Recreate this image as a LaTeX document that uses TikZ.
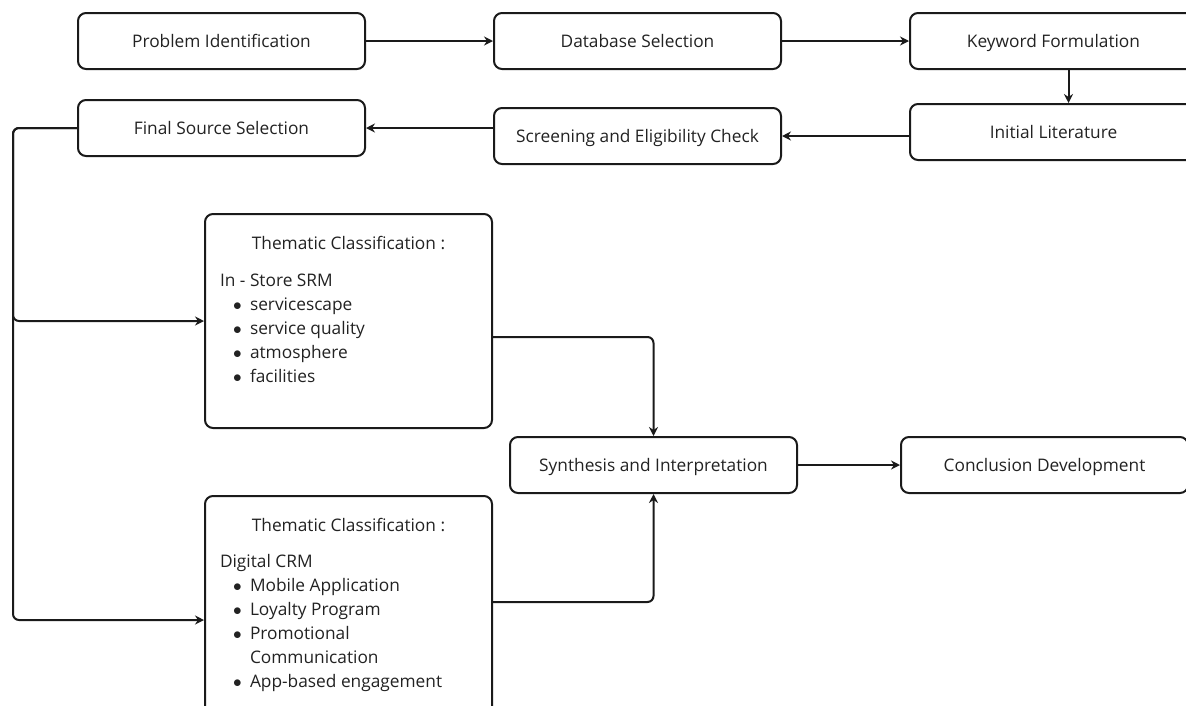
\documentclass[tikz,border=0pt]{standalone}
\usepackage{fontspec}
\setmainfont{Open Sans}
\usetikzlibrary{positioning,arrows.meta}
\definecolor{FlowInk}{HTML}{1A1A1A}
\definecolor{FlowText}{HTML}{222222}
\tikzset{
  flowBase/.style={
    font=\fontsize{17.3pt}{24pt}\selectfont,
    text=FlowText,
    draw=FlowInk,
    line width=2pt,
    rounded corners=8pt,
    align=center
  },
  flowStep/.style={
    flowBase,
    minimum width=287pt,
    minimum height=56pt,
    text height=13pt,
    text depth=0pt,
    inner sep=0pt
  },
  flowTheme/.style={
    flowBase,
    minimum width=287pt,
    inner sep=0pt
  },
  flowArrow/.style={
    line width=2pt,
    color=FlowInk,
    rounded corners=6pt,
    -{Stealth[length=9pt,width=9pt,inset=3pt]}
  }
}
\newcommand{\themeItem}[1]{\par\hspace*{13pt}\makebox[17pt][l]{$\bullet$}#1}
\newcommand{\themeCont}[1]{\par\hspace*{30pt}#1}

\begin{document}
\begin{tikzpicture}[x=1pt, y=-1pt]
  \useasboundingbox (0,0) rectangle (1186,705);
  \clip (0,0) rectangle (1186,705);

  % top row
  \node (prob) [flowStep] at (221.5,41) {Problem Identification};
  \node (dbsel) [flowStep, right=127pt of prob] {Database Selection};
  \node (kwform) [flowStep, right=127pt of dbsel] {Keyword Formulation};

  % second row
  \node (initlit) [flowStep, below=33pt of kwform] {Initial Literature};
  \node (screen) [flowStep, below=37pt of dbsel] {Screening and Eligibility Check};
  \node (finsel) [flowStep, below=29pt of prob] {Final Source Selection};

  % thematic classification
  \node (instore) [flowTheme, minimum height=214pt] at (348.5,321) {%
    \begin{minipage}[c][214pt][t]{257pt}
      \vspace*{22pt}
      \centering Thematic Classification :\par
      \vspace{13pt}
      \raggedright In - Store SRM
      \themeItem{servicescape}
      \themeItem{service quality}
      \themeItem{atmosphere}
      \themeItem{facilities}
    \end{minipage}};
  \node (digital) [flowTheme, minimum height=248pt] at (348.5,620) {%
    \begin{minipage}[c][248pt][t]{257pt}
      \vspace*{22pt}
      \centering Thematic Classification :\par
      \vspace{12pt}
      \raggedright Digital CRM
      \themeItem{Mobile Application}
      \themeItem{Loyalty Program}
      \themeItem{Promotional}
      \themeCont{Communication}
      \themeItem{App-based engagement}
    \end{minipage}};

  % synthesis and conclusion
  \node (synth) [flowStep] at (653.5,465) {Synthesis and Interpretation};
  \node (concl) [flowStep, right=102pt of synth] {Conclusion Development};

  \draw [flowArrow] (prob) -- (dbsel);
  \draw [flowArrow] (dbsel) -- (kwform);
  \draw [flowArrow] ([xshift=15pt]kwform.south) -- ([xshift=15pt]kwform.south |- initlit.north);
  \draw [flowArrow] (initlit.west |- screen.east) -- (screen.east);
  \draw [flowArrow] (screen.west |- finsel.east) -- (finsel.east);
  \draw [flowArrow] (finsel.west) -- ++(-64,0) |- (instore.west);
  \draw [flowArrow] (finsel.west) -- ++(-64,0) |- (digital.west);
  \draw [flowArrow] ([yshift=-16pt]instore.east) -| (synth.north);
  \draw [flowArrow] ([yshift=18pt]digital.east) -| (synth.south);
  \draw [flowArrow] (synth.east) -- (synth.east -| concl.west);
\end{tikzpicture}
\end{document}
